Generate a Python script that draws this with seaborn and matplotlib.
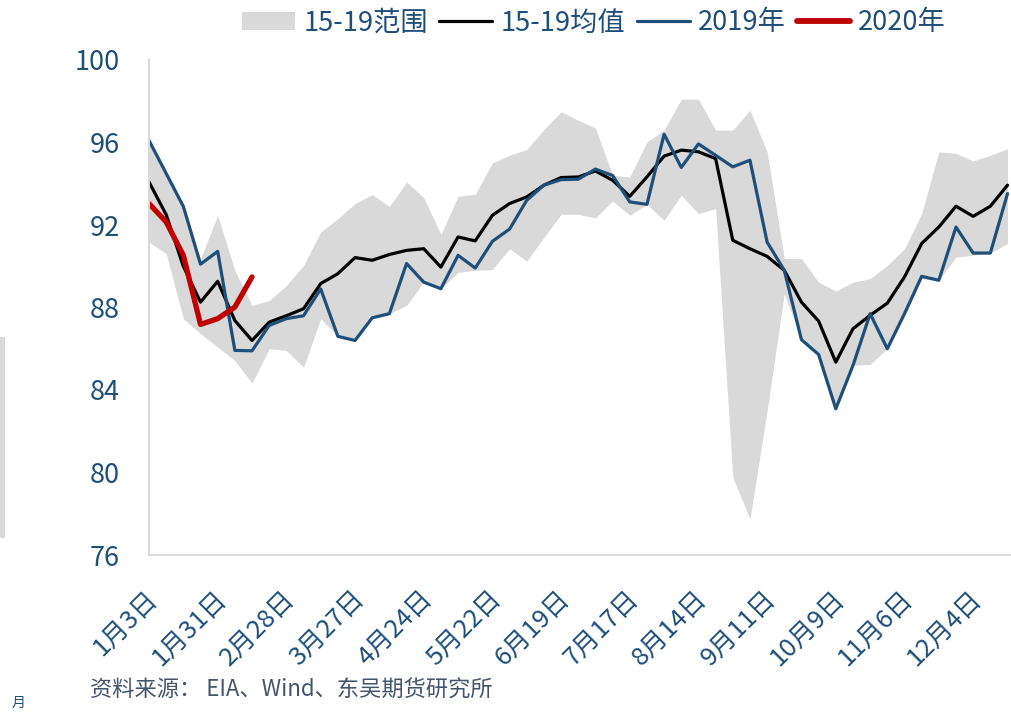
import numpy as np
import pandas as pd
import seaborn as sns
import matplotlib.pyplot as plt
import matplotlib.transforms as mtransforms
from matplotlib.patches import Patch, Rectangle
from matplotlib.lines import Line2D

# weekly data, week 0 = 1月3日
weeks = pd.date_range("2020-01-03", periods=51, freq="7D")

range_low = [91.17, 90.61, 87.46, 86.73, 86.08, 85.43, 84.33, 86.0, 85.92, 85.1,
             87.46, 86.6, 86.4, 87.5, 87.7, 88.1, 89.23, 88.91, 89.7, 89.8,
             89.84, 90.85, 90.25, 91.39, 92.52, 92.52, 92.34, 93.17, 92.47, 93.0,
             92.23, 93.44, 92.55, 92.8, 79.77, 77.75, 83.0, 88.67, 86.44, 85.72,
             83.09, 85.19, 85.24, 86.0, 87.6, 89.4, 89.32, 90.45, 90.53, 90.64,
             91.1]
range_high = [96.1, 94.5, 92.9, 90.37, 92.47, 89.8, 88.1, 88.34, 89.07, 90.04,
              91.66, 92.31, 93.04, 93.48, 92.9, 94.09, 93.33, 91.55, 93.39, 93.49,
              95.01, 95.38, 95.66, 96.63, 97.49, 97.08, 96.71, 94.41, 94.33, 96.03,
              96.6, 98.1, 98.1, 96.6, 96.6, 97.57, 95.55, 90.37, 90.37, 89.23,
              88.8, 89.23, 89.4, 90.04, 90.85, 92.55, 95.55, 95.47, 95.11, 95.38,
              95.7]
avg_15_19 = [94.09, 92.5, 90.0, 88.26, 89.27, 87.37, 86.4, 87.29, 87.6, 87.94,
             89.16, 89.64, 90.42, 90.29, 90.57, 90.77, 90.85, 89.96, 91.42, 91.23,
             92.47, 93.04, 93.36, 93.93, 94.3, 94.33, 94.62, 94.17, 93.39, 94.33,
             95.34, 95.63, 95.55, 95.22, 91.26, 90.85, 90.48, 89.8, 88.26, 87.34,
             85.35, 86.97, 87.62, 88.21, 89.48, 91.1, 91.9, 92.91, 92.42, 92.91,
             93.93]
y2019 = [96.1, 94.5, 92.9, 90.1, 90.72, 85.92, 85.9, 87.13, 87.46, 87.6,
         88.9, 86.6, 86.4, 87.5, 87.7, 90.13, 89.23, 88.91, 90.53, 89.91,
         91.21, 91.8, 93.2, 93.93, 94.2, 94.22, 94.71, 94.4, 93.12, 93.0,
         96.4, 94.79, 95.93, 95.38, 94.82, 95.14, 91.17, 89.8, 86.44, 85.72,
         83.09, 85.19, 87.7, 86.0, 87.7, 89.51, 89.32, 91.9, 90.64, 90.64,
         93.52]
y2020 = [93.04, 92.15, 90.53, 87.18, 87.46, 88.02, 89.48]

y_ticks = [76, 80, 84, 88, 92, 96, 100]
labels = ["15-19范围", "15-19均值", "2019年", "2020年"]

BLUE = "#1F4E79"
RED = "#C00000"
GRAY = "#D9D9D9"
TEXT = "#1F4E79"

sns.set_style("white")
plt.rcParams["font.family"] = ["Noto Sans CJK SC", "DejaVu Sans"]

df = pd.DataFrame({"week": np.arange(len(weeks)), "low": range_low, "high": range_high,
                   "avg": avg_15_19, "y2019": y2019})
df20 = pd.DataFrame({"week": np.arange(len(y2020)), "y2020": y2020})

fig = plt.figure(figsize=(10.12, 7.12), dpi=100)
ax = fig.add_axes([149 / 1012, 1 - 555 / 712, 1 - 149 / 1012, (555 - 60) / 712])

ax.fill_between(df["week"], df["low"], df["high"], color=GRAY, lw=0)
sns.lineplot(data=df, x="week", y="avg", color="black", lw=2.3, ax=ax)
sns.lineplot(data=df, x="week", y="y2019", color=BLUE, lw=2.3, ax=ax)
sns.lineplot(data=df20, x="week", y="y2020", color=RED, lw=3.8, ax=ax,
             solid_capstyle="round")

ax.set_xlim(0, (1012 - 149) / 17.17)
ax.set_ylim(76, 100)
ax.set_yticks(y_ticks)
ax.set_yticklabels([str(v) for v in y_ticks])
xt = np.arange(0, len(weeks), 4)
ax.set_xticks(xt)
ax.set_xticklabels([f"{weeks[i].month}月{weeks[i].day}日" for i in xt])
ax.set_xlabel("")
ax.set_ylabel("")

for s in ["top", "right"]:
    ax.spines[s].set_visible(False)
for s in ["left", "bottom"]:
    ax.spines[s].set_color(GRAY)
    ax.spines[s].set_linewidth(1.4)

ax.tick_params(axis="y", length=9, width=1.3, color=GRAY, pad=12,
               labelsize=19.5, labelcolor=TEXT)
ax.tick_params(axis="x", length=8, width=1.3, color=GRAY, pad=0,
               labelsize=18.5, labelcolor=TEXT)

offset = mtransforms.ScaledTranslation(5 / 100, -29 / 100, fig.dpi_scale_trans)
for lbl in ax.get_xticklabels():
    lbl.set_rotation(45)
    lbl.set_ha("right")
    lbl.set_va("center")
    lbl.set_rotation_mode("anchor")
    lbl.set_transform(lbl.get_transform() + offset)

handles = [Patch(facecolor=GRAY, edgecolor="none"),
           Line2D([], [], color="black", lw=2.3),
           Line2D([], [], color=BLUE, lw=2.3),
           Line2D([], [], color=RED, lw=4.2, solid_capstyle="round")]
fig.legend(handles, labels, loc="center", bbox_to_anchor=(594 / 1012, 1 - 23 / 712),
           ncol=4, frameon=False, fontsize=19.6, labelcolor=TEXT,
           handlelength=1.95, handletextpad=0.3, columnspacing=0.42,
           handleheight=0.6)

fig.text(90 / 1012, 1 - 690 / 712, "资料来源： EIA、Wind、东吴期货研究所",
         fontsize=16, color="#44546A", style="italic", va="center", ha="left")

# fragment of the neighbouring chart on the left edge
fig.patches.append(Rectangle((0, 1 - 538 / 712), 5.5 / 1012, 201 / 712,
                             transform=fig.transFigure, facecolor=GRAY,
                             edgecolor="none"))
fig.text(12 / 1012, 1 - 703 / 712, "月", fontsize=10, color=TEXT,
         va="center", ha="left")

fig.savefig("out.png", dpi=100)
